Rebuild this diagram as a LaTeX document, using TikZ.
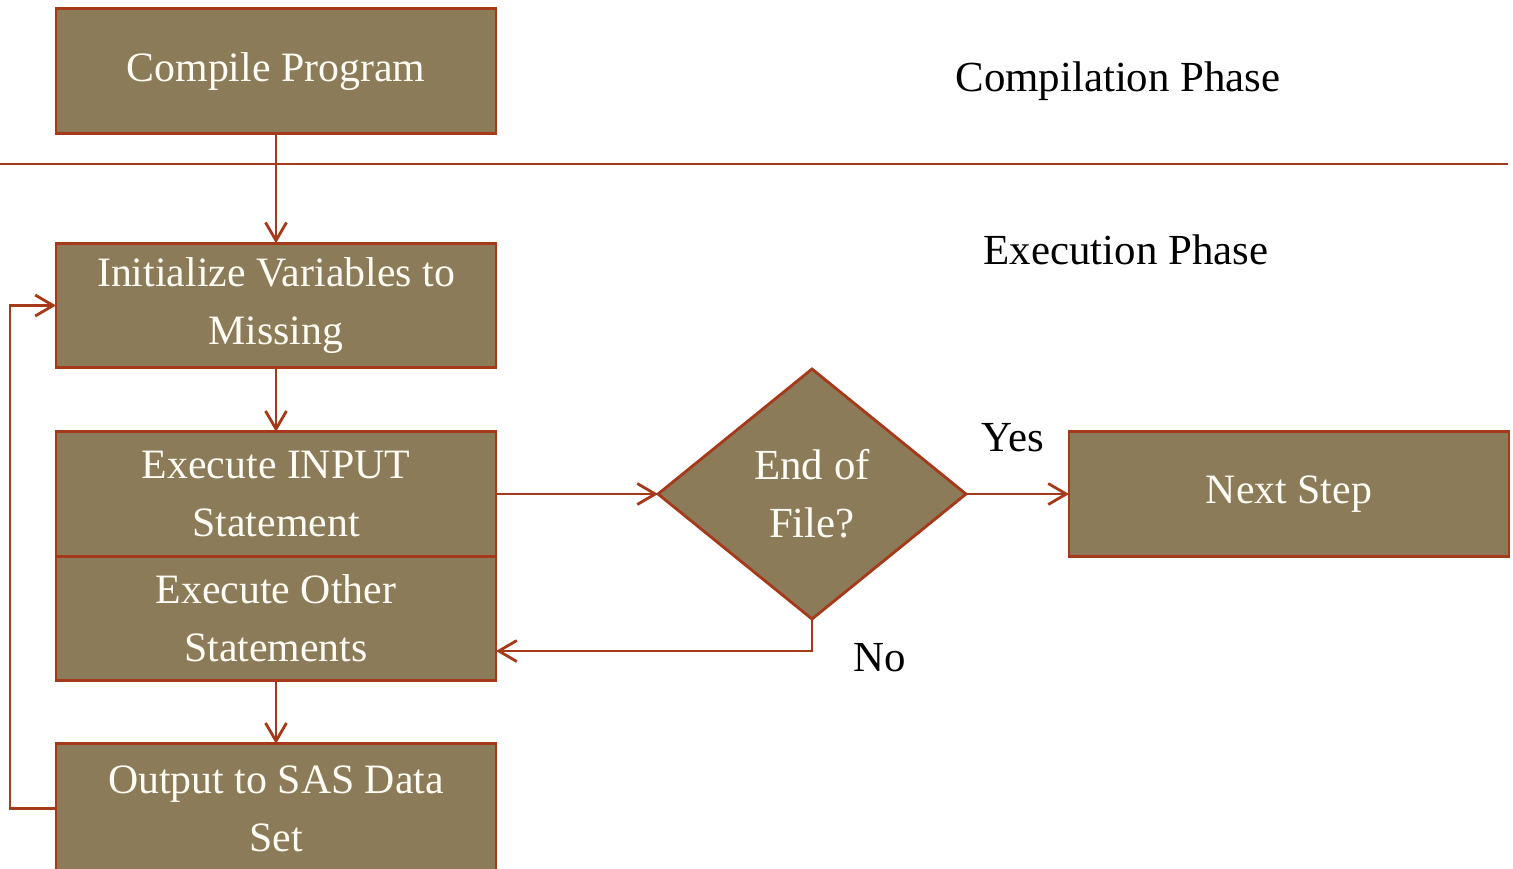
\documentclass[tikz,border=0pt]{standalone}
\usepackage{fontspec}
\setmainfont{Liberation Serif}
\usetikzlibrary{arrows.meta, positioning, shapes.geometric}

\definecolor{boxfill}{HTML}{8B7B58}
\definecolor{rust}{HTML}{A5391A}
\definecolor{boxtext}{HTML}{FFFDF5}

\begin{document}
\begin{tikzpicture}[
node distance=0.64cm,
font=\fontsize{12.2}{16.5}\selectfont,
box/.style={rectangle, draw=rust, fill=boxfill, line width=0.8pt, text=boxtext, minimum width=4.4cm, minimum height=1.245cm, inner sep=0pt, outer sep=0pt, align=center, font=\fontsize{11.9}{16.5}\selectfont},
decision/.style={diamond, draw=rust, fill=boxfill, line width=0.8pt, text=boxtext, minimum width=3.08cm, minimum height=2.5cm, inner sep=0pt, outer sep=0pt, align=center},
arrow/.style={-{Straight Barb[length=1.8mm, width=2.1mm]}, draw=rust, line width=0.8pt}
]
\useasboundingbox (0,0) rectangle (15.13,-8.68);
\clip (0,0) rectangle (15.13,-8.68);

\node[box] (compile) at (2.76,-0.71) {Compile Program};
\node[box, below=1.1cm of compile] (init) {Initialize Variables to\\Missing};
\node[box, below=of init] (input) {Execute INPUT\\Statement};
\node[box, below=0pt of input] (other) {Execute Other\\Statements};
\node[box, below=0.63cm of other, minimum height=1.3cm] (output) {Output to SAS Data\\Set};
\node[decision] (eof) at (8.12,-4.94) {End of\\File?};
\node[box] (next) at (12.89,-4.94) {Next Step};

% phase labels and divider
\draw[rust, line width=0.8pt] (0,-1.64) -- (15.08,-1.64);
\node (compphase) at (11.18,-0.81) {Compilation Phase};
\node (execphase) at (11.26,-2.50) {Execution Phase};
\node (yes) at (10.13,-4.38) {Yes};
\node (no) at (8.80,-6.58) {No};

\draw[arrow] (compile) -- (init);
\draw[arrow] (init) -- (input);
\draw[arrow] (other) -- (output);
\draw[arrow] (input.east) -- (eof.west);
\draw[arrow] (eof.east) -- (next.west);
\draw[arrow] (eof.south) -- ++(0,-0.32) coordinate (nobend) -- (nobend -| other.east);
\draw[arrow] (output.west) -- ++(-0.46,0) |- (init.west);

\end{tikzpicture}
\end{document}
